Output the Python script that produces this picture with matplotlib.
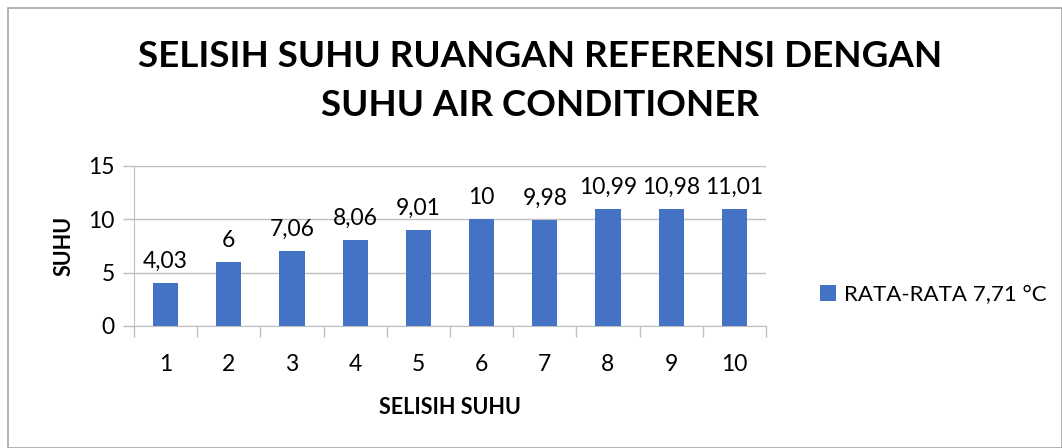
import matplotlib
matplotlib.use("Agg")
import matplotlib.pyplot as plt
from matplotlib.patches import Rectangle

categories = ["1", "2", "3", "4", "5", "6", "7", "8", "9", "10"]
values = [4.03, 6, 7.06, 8.06, 9.01, 10, 9.98, 10.99, 10.98, 11.01]
labels = ["4,03", "6", "7,06", "8,06", "9,01", "10", "9,98", "10,99", "10,98", "11,01"]
series_name = "RATA-RATA 7,71 °C"
title = "SELISIH SUHU RUANGAN REFERENSI DENGAN\nSUHU AIR CONDITIONER"
xlabel = "SELISIH SUHU"
ylabel = "SUHU"
yticks = [0, 5, 10, 15]

plt.rcParams['font.family'] = ['Lato', 'DejaVu Sans']
W, H = 1062, 448
fig = plt.figure(figsize=(W/100, H/100), dpi=100)
fig.patches.append(Rectangle((8/W, 0), (W-8)/W, (H-8)/H, transform=fig.transFigure,
                             fill=False, edgecolor="#A6A6A6", linewidth=1.2))

left, right, top, bottom = 134, 766, 166, 326
ax = fig.add_axes([left/W, 1-bottom/H, (right-left)/W, (bottom-top)/H])
x = list(range(len(categories)))
bars = ax.bar(x, values, width=0.40, color="#4472C4", label=series_name, zorder=3)
ax.set_xlim(-0.5, len(categories)-0.5)
ax.set_ylim(0, 15)
ax.set_yticks(yticks)
ax.set_xticks(x)
ax.set_xticklabels(categories)
ax.set_xticks([i-0.5 for i in range(len(categories)+1)], minor=True)
ax.tick_params(axis='x', which='major', length=0, labelsize=16.5, pad=20)
ax.tick_params(axis='x', which='minor', length=8, color="#BFBFBF", width=1)
ax.tick_params(axis='y', length=8, color="#BFBFBF", width=1, labelsize=16.5, pad=6)
ax.grid(axis='y', color="#BFBFBF", linewidth=1, zorder=0)
for s in ['top', 'right']:
    ax.spines[s].set_visible(False)
for s in ['left', 'bottom']:
    ax.spines[s].set_color("#BFBFBF")
for xi, v, lab in zip(x, values, labels):
    ax.annotate(lab, (xi, v), xytext=(0, 8), textcoords="offset points",
                ha="center", va="bottom", fontsize=16.5)
ax.set_xlabel(xlabel, fontsize=15.5, fontweight="bold", labelpad=16)
ax.set_ylabel(ylabel, fontsize=15.5, fontweight="bold", labelpad=10)
fig.text(540/W, 1-81/H, title, ha="center", va="center", fontsize=26.5,
         fontweight="bold", linespacing=1.6)
fig.legend(handles=[bars], labels=[series_name], loc="center left",
           bbox_to_anchor=(800/W, 1-295/H), frameon=False, fontsize=16,
           handlelength=0.7, handleheight=0.7, handletextpad=0.4)
fig.savefig("out.png", dpi=100)
